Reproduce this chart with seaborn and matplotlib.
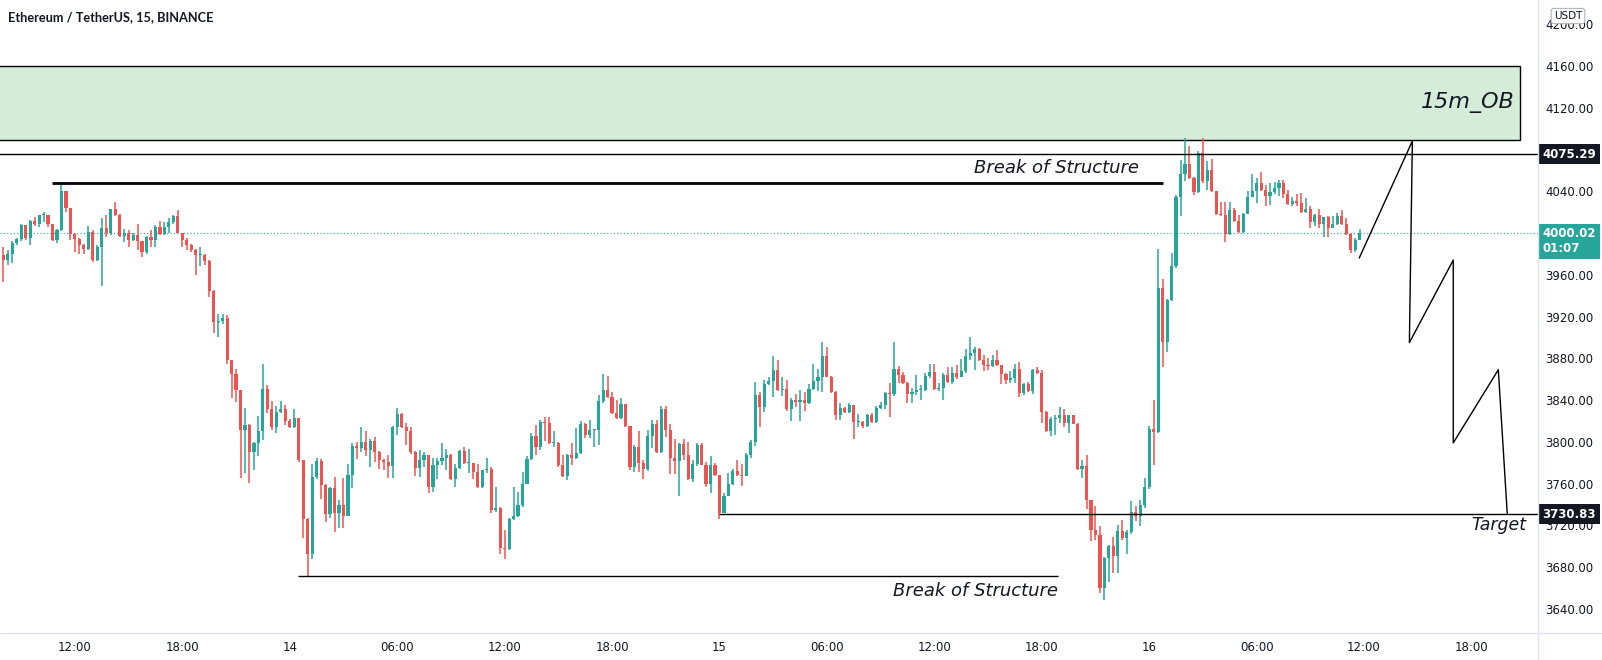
import numpy as np
import pandas as pd
import seaborn as sns
import matplotlib
matplotlib.use('Agg')
import matplotlib.pyplot as plt
import matplotlib.dates as mdates
from matplotlib import patches, transforms
from matplotlib.lines import Line2D

# ETHUSDT 15m candles (first candle 13 Dec 08:00)
start = '2021-12-13 08:00'
first_open = 3979
closes = [
    3974, 3980, 3990, 3994, 4008, 3995, 4011, 4009, 4017, 4017, 4009, 3993, 4003, 4040, 4024, 3999,
    3994, 3988, 3985, 4001, 3974, 3987, 4005, 4000, 4023, 4017, 3997, 4000, 3993, 3998, 3992, 3982,
    3996, 3993, 4006, 3999, 4006, 4010, 4016, 4000, 3993, 3988, 3984, 3979, 3979, 3973, 3944, 3915,
    3916, 3919, 3878, 3865, 3850, 3811, 3816, 3790, 3799, 3810, 3851, 3831, 3814, 3829, 3831, 3820,
    3814, 3823, 3783, 3726, 3693, 3766, 3782, 3759, 3731, 3756, 3732, 3740, 3729, 3768, 3796, 3794,
    3800, 3792, 3801, 3790, 3783, 3781, 3777, 3814, 3827, 3814, 3810, 3790, 3775, 3783, 3787, 3757,
    3778, 3782, 3785, 3787, 3764, 3775, 3791, 3780, 3780, 3771, 3757, 3773, 3774, 3735, 3737, 3698,
    3697, 3726, 3729, 3740, 3760, 3784, 3806, 3795, 3819, 3818, 3799, 3799, 3778, 3767, 3787, 3785,
    3789, 3817, 3807, 3811, 3811, 3839, 3850, 3843, 3828, 3823, 3836, 3815, 3776, 3795, 3780, 3774,
    3806, 3817, 3790, 3831, 3811, 3785, 3782, 3798, 3787, 3764, 3779, 3797, 3778, 3760, 3778, 3768,
    3732, 3748, 3760, 3772, 3768, 3767, 3787, 3800, 3845, 3833, 3855, 3858, 3869, 3850, 3851, 3831,
    3840, 3838, 3840, 3837, 3851, 3858, 3862, 3882, 3862, 3848, 3826, 3832, 3829, 3835, 3819, 3819,
    3815, 3826, 3819, 3832, 3835, 3847, 3846, 3870, 3864, 3856, 3846, 3848, 3850, 3850, 3863, 3867,
    3851, 3852, 3864, 3857, 3866, 3862, 3868, 3882, 3885, 3889, 3878, 3874, 3873, 3878, 3874, 3865,
    3859, 3861, 3870, 3847, 3855, 3849, 3869, 3866, 3829, 3810, 3822, 3823, 3826, 3818, 3826, 3817,
    3774, 3777, 3744, 3716, 3711, 3660, 3689, 3700, 3691, 3715, 3708, 3714, 3733, 3729, 3740, 3757,
    3812, 3809, 3947, 3896, 3936, 3968, 4034, 4056, 4066, 4053, 4039, 4077, 4050, 4060, 4040, 4018,
    4017, 3999, 4022, 4011, 4001, 4018, 4034, 4040, 4048, 4041, 4035, 4039, 4043, 4048, 4037, 4028,
    4031, 4029, 4020, 4023, 4010, 4017, 4009, 4015, 4005, 4009, 4016, 4009, 3999, 3984, 3993, 4000.02,
]
highs = [
    3987, 3984, 3992, 3995, 4009, 4008, 4012, 4015, 4017, 4020, 4017, 4009, 4004, 4048, 4040, 4024,
    4000, 3995, 3989, 4007, 4003, 3988, 4014, 4017, 4023, 4030, 4018, 4004, 4003, 4000, 4009, 3992,
    3997, 4003, 4008, 4011, 4010, 4014, 4017, 4022, 4000, 3995, 3989, 3985, 3987, 3980, 3974, 3945,
    3922, 3922, 3921, 3878, 3870, 3850, 3832, 3817, 3800, 3825, 3875, 3854, 3839, 3834, 3839, 3835,
    3822, 3831, 3823, 3783, 3727, 3779, 3785, 3784, 3760, 3757, 3766, 3744, 3765, 3779, 3799, 3800,
    3814, 3810, 3803, 3805, 3791, 3784, 3787, 3815, 3832, 3828, 3818, 3814, 3791, 3792, 3790, 3787,
    3785, 3785, 3799, 3793, 3788, 3779, 3792, 3795, 3793, 3780, 3779, 3773, 3785, 3776, 3757, 3738,
    3716, 3727, 3757, 3752, 3771, 3786, 3808, 3816, 3821, 3824, 3824, 3810, 3800, 3787, 3788, 3799,
    3813, 3820, 3818, 3821, 3811, 3845, 3865, 3863, 3848, 3840, 3842, 3836, 3815, 3797, 3810, 3783,
    3811, 3821, 3821, 3834, 3834, 3817, 3803, 3799, 3803, 3800, 3783, 3799, 3799, 3781, 3786, 3780,
    3768, 3751, 3770, 3774, 3783, 3779, 3789, 3802, 3857, 3848, 3859, 3862, 3882, 3878, 3862, 3859,
    3842, 3846, 3850, 3848, 3855, 3875, 3870, 3896, 3891, 3863, 3849, 3837, 3833, 3837, 3835, 3827,
    3820, 3827, 3828, 3834, 3838, 3848, 3856, 3896, 3873, 3867, 3857, 3852, 3864, 3854, 3866, 3875,
    3875, 3856, 3866, 3872, 3872, 3874, 3879, 3889, 3900, 3891, 3890, 3883, 3880, 3883, 3888, 3874,
    3866, 3868, 3875, 3876, 3856, 3857, 3870, 3872, 3869, 3830, 3824, 3826, 3833, 3831, 3826, 3826,
    3818, 3783, 3787, 3744, 3739, 3719, 3690, 3701, 3709, 3720, 3725, 3716, 3743, 3739, 3744, 3765,
    3815, 3840, 3985, 3956, 3937, 3981, 4036, 4070, 4091, 4083, 4054, 4078, 4091, 4069, 4071, 4040,
    4030, 4030, 4030, 4024, 4017, 4019, 4040, 4056, 4053, 4058, 4046, 4048, 4049, 4051, 4051, 4041,
    4034, 4037, 4038, 4033, 4026, 4018, 4023, 4015, 4016, 4016, 4019, 4022, 4014, 4000, 3995, 4004,
]
lows = [
    3953, 3969, 3971, 3988, 3992, 3993, 3988, 4007, 4006, 4010, 4006, 3992, 3990, 4002, 4020, 3993,
    3982, 3980, 3980, 3984, 3972, 3973, 3949, 3996, 3998, 4016, 3996, 3991, 3987, 3992, 3984, 3977,
    3980, 3987, 3987, 3998, 3998, 4000, 4009, 4000, 3987, 3984, 3982, 3960, 3968, 3969, 3939, 3904,
    3900, 3913, 3875, 3842, 3838, 3765, 3770, 3761, 3773, 3786, 3802, 3828, 3811, 3808, 3828, 3816,
    3813, 3813, 3781, 3708, 3672, 3688, 3764, 3745, 3723, 3727, 3714, 3718, 3718, 3729, 3756, 3784,
    3790, 3786, 3776, 3781, 3774, 3773, 3765, 3765, 3807, 3813, 3797, 3788, 3767, 3766, 3776, 3751,
    3752, 3764, 3778, 3773, 3763, 3757, 3774, 3779, 3770, 3764, 3756, 3756, 3770, 3732, 3733, 3693,
    3688, 3696, 3725, 3728, 3738, 3760, 3783, 3787, 3792, 3801, 3798, 3795, 3776, 3766, 3763, 3778,
    3784, 3788, 3804, 3804, 3795, 3797, 3837, 3842, 3827, 3822, 3822, 3814, 3773, 3771, 3771, 3764,
    3772, 3794, 3789, 3789, 3805, 3769, 3769, 3748, 3783, 3763, 3762, 3777, 3778, 3757, 3751, 3767,
    3726, 3732, 3748, 3759, 3767, 3758, 3767, 3785, 3796, 3814, 3829, 3854, 3843, 3849, 3844, 3830,
    3820, 3833, 3820, 3830, 3836, 3850, 3849, 3848, 3862, 3847, 3821, 3821, 3828, 3828, 3803, 3814,
    3813, 3814, 3818, 3818, 3831, 3831, 3824, 3844, 3856, 3855, 3837, 3837, 3845, 3840, 3849, 3861,
    3850, 3849, 3840, 3856, 3855, 3860, 3862, 3866, 3878, 3869, 3877, 3868, 3869, 3872, 3873, 3855,
    3855, 3856, 3856, 3843, 3845, 3848, 3846, 3865, 3818, 3809, 3806, 3807, 3818, 3814, 3808, 3817,
    3773, 3765, 3736, 3705, 3706, 3655, 3649, 3666, 3674, 3674, 3706, 3693, 3712, 3724, 3719, 3737,
    3755, 3778, 3808, 3872, 3886, 3935, 3966, 4016, 4050, 4052, 4036, 4038, 4048, 4041, 4039, 4017,
    4016, 3991, 3998, 4010, 4000, 4000, 4018, 4034, 4029, 4040, 4026, 4027, 4037, 4035, 4033, 4027,
    4026, 4026, 4019, 4019, 4005, 4007, 4005, 3996, 3996, 4005, 4008, 4008, 3998, 3981, 3982, 3993,
]

# drawings on the chart
ob_top, ob_bottom = 4160, 4089
ob_end = '2021-12-16 20:44'
bos_high = ['2021-12-13 10:42', '2021-12-16 00:46', 4048]
bos_low = ['2021-12-14 00:28', '2021-12-15 18:55', 3672]
level_high = 4075.29
level_target = 3730.83
target_from = '2021-12-15 00:00'
last_price = 4000.02
proj_times = ['2021-12-16 11:44', '2021-12-16 14:42', '2021-12-16 14:32', '2021-12-16 16:59',
              '2021-12-16 16:59', '2021-12-16 19:30', '2021-12-16 20:00']
proj_prices = [3976, 4088, 3895, 3974, 3799, 3869, 3731]
price_ticks = np.arange(3640, 4201, 40)

UP, DOWN = '#26a69a', '#ef5350'
INK = '#131722'
GRID = '#e0e3eb'

sns.set_theme(style='white')
plt.rcParams['font.family'] = ['DejaVu Sans']

df = pd.DataFrame({'time': pd.date_range(start, periods=len(closes), freq='15min'),
                   'close': closes, 'high': highs, 'low': lows})
df['open'] = [first_open] + closes[:-1]
df['high'] = df[['high', 'open', 'close']].max(axis=1)
df['low'] = df[['low', 'open', 'close']].min(axis=1)
df['x'] = mdates.date2num(df['time'])
colors = np.where(df['close'] >= df['open'], UP, DOWN)

def tx(s):
    return mdates.date2num(pd.Timestamp(s))

fig = plt.figure(figsize=(16.02, 6.6), dpi=100)
ax = fig.add_axes([0, 27 / 660, 1538 / 1602, 633 / 660])

# candles
ax.vlines(df['x'], df['low'], df['high'], colors=colors, lw=1.1, zorder=3)
ax.bar(df['x'], np.maximum((df['close'] - df['open']).abs(), 0.9),
       bottom=df[['open', 'close']].min(axis=1), width=0.7 / 96,
       color=colors, lw=0, zorder=4)

# order block
x0 = tx(start) - 1
ax.add_patch(patches.Rectangle((x0, ob_bottom), tx(ob_end) - x0, ob_top - ob_bottom,
                               facecolor='#d5edd8', edgecolor='black', lw=1, zorder=2))
ax.text(tx('2021-12-16 17:49'), 4125, '15m_OB', fontsize=16, style='italic',
        ha='center', va='center', color=INK, zorder=6)

# structure lines
ax.hlines(bos_high[2], tx(bos_high[0]), tx(bos_high[1]), color='black', lw=2, zorder=5)
ax.text(tx('2021-12-15 18:48'), 4062, 'Break of Structure', fontsize=13, style='italic',
        ha='center', va='center', color=INK, zorder=6)
ax.hlines(bos_low[2], tx(bos_low[0]), tx(bos_low[1]), color='black', lw=1, zorder=5)
ax.text(tx('2021-12-15 14:17'), 3657, 'Break of Structure', fontsize=13, style='italic',
        ha='center', va='center', color=INK, zorder=6)

xmax = tx('2021-12-16 21:43')
ax.hlines(level_high, x0, xmax, color='black', lw=1, zorder=5)
ax.hlines(level_target, tx(target_from), xmax, color='black', lw=1, zorder=5)
ax.text(tx('2021-12-16 19:32'), 3720, 'Target', fontsize=12.5, style='italic',
        ha='center', va='center', color=INK, zorder=6)
ax.axhline(last_price, color=UP, lw=0.8, ls=(0, (1, 2)), zorder=2)

# projected path
sns.lineplot(x=[tx(t) for t in proj_times], y=proj_prices, sort=False, estimator=None,
             color='black', lw=1, ax=ax, zorder=6)

ax.set_xlim(tx(start) - 11 / 1440, xmax)
ax.set_ylim(3617, 4223)
ax.set_xlabel('')
ax.set_ylabel('')

ticks = pd.date_range('2021-12-13 12:00', '2021-12-16 18:00', freq='6h')
ax.set_xticks(mdates.date2num(ticks))
ax.set_xticklabels([str(t.day) if t.hour == 0 else t.strftime('%H:%M') for t in ticks])
ax.set_yticks(price_ticks)
# the 4000 tick sits under the live price tag, so its label is not shown
ax.set_yticklabels(['' if v == 4000 else f'{v:.2f}' for v in price_ticks])
ax.yaxis.tick_right()
ax.tick_params(axis='x', length=0, pad=6, labelsize=8.5, labelcolor=INK)
ax.tick_params(axis='y', length=0, pad=5, labelsize=8.5, labelcolor=INK)
for side in ['top', 'left', 'right', 'bottom']:
    ax.spines[side].set_visible(False)

fig.add_artist(Line2D([0, 1], [27 / 660] * 2, transform=fig.transFigure, color=GRID, lw=1))
fig.add_artist(Line2D([1538 / 1602] * 2, [0, 1], transform=fig.transFigure, color=GRID, lw=1))

# price labels on the scale
trans = transforms.blended_transform_factory(ax.transAxes, ax.transData)
for price in [level_high, level_target]:
    ax.text(1.003, price, f'{price:.2f}', transform=trans, ha='left', va='center',
            color='white', fontsize=8.5, fontweight='bold', clip_on=False, zorder=10,
            bbox=dict(boxstyle='square,pad=0.3', fc=INK, ec='none'))
ax.annotate(f'{last_price:.2f}\n01:07', xy=(1.003, last_price), xycoords=trans,
            xytext=(0, -6), textcoords='offset points', ha='left', va='center',
            color='white', fontsize=8.5, fontweight='bold', annotation_clip=False,
            zorder=10, linespacing=1.15,
            bbox=dict(boxstyle='square,pad=0.3', fc=UP, ec='none'))

fig.text(1568 / 1602, 1 - 16 / 660, 'USDT', fontsize=7.5, color=INK, ha='center', va='center',
         bbox=dict(boxstyle='round,pad=0.25', fc='white', ec='#b2b5be', lw=0.8))
fig.text(8 / 1602, 1 - 17 / 660, 'Ethereum / TetherUS, 15, BINANCE', fontsize=9.2,
         fontweight='bold', family=['Lato', 'DejaVu Sans'], va='center', color=INK)

fig.savefig('out.png', dpi=100, facecolor='white')
